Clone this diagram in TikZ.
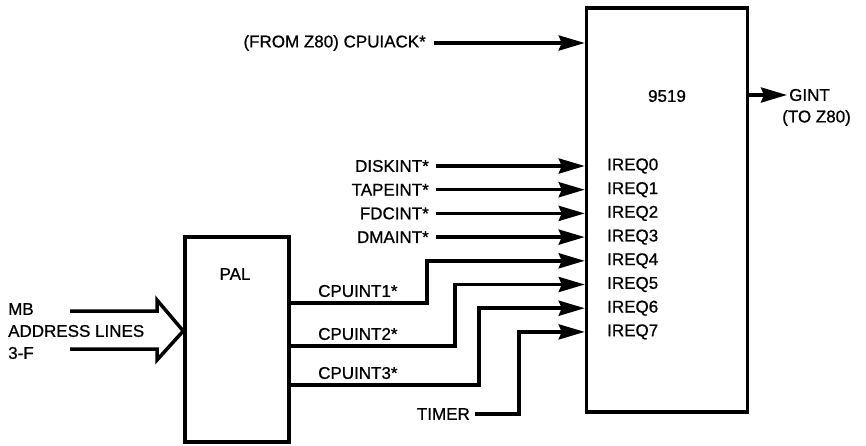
\documentclass[tikz,border=0pt]{standalone}
\usepackage{fontspec}
\setmainfont{Liberation Sans}[FakeBold=0.8]
\usetikzlibrary{arrows.meta}

\begin{document}
\begin{tikzpicture}[x=1pt, y=-1pt, >={Stealth[length=26pt,width=15pt,inset=3pt]},
        wire/.style={line width=3.5pt},
        box/.style={draw, line width=3.5pt, inner sep=0pt},
        lbl/.style={font=\fontsize{17}{17}\selectfont, inner sep=2pt}]
    \useasboundingbox (0,0) rectangle (866,445);
    % Chips
    \node[box, minimum width=161pt, minimum height=404pt] (chip) at (667,210) {};
    \node[box, minimum width=104pt, minimum height=205pt] (pal) at (237,339.5) {};
    \node[lbl] (chipname) at (667,96) {9519};
    \node[lbl] (palname) at (235,274) {PAL};
    % Request inputs
    \foreach \i in {0,...,7} {
            \node[lbl, anchor=west] (irq\i) at (605, {166+23.7*\i}) {IREQ\i};
        }
    \foreach \name/\i in {DISKINT/0, TAPEINT/1, FDCINT/2, DMAINT/3} {
            \node[lbl, anchor=east] (in\i) at (431, {166+23.7*\i}) {\name*};
            \draw[wire, ->, shorten <=5pt] (in\i.east) -- (chip.west |- irq\i);
        }
    % PAL outputs
    \foreach \n/\k/\x/\y in {1/4/427/303, 2/5/455/346, 3/6/479/385} {
            \coordinate (bend\n) at (\x,\y);
            \node[lbl, anchor=west] (cpu\n) at (316, {\y-12}) {CPUINT\n*};
            \draw[wire, ->] (pal.east |- bend\n) -- (bend\n) |- (chip.west |- irq\k);
        }
    \node[lbl, anchor=east] (timer) at (472,414) {TIMER};
    \coordinate (tbend) at (519,414);
    \draw[wire, ->, shorten <=3pt] (timer.east) -- (tbend) |- (chip.west |- irq7);
    % Acknowledge and interrupt out
    \node[lbl, anchor=east] (ack) at (428,43) {(FROM Z80) CPUIACK*};
    \draw[wire, ->, shorten <=6pt] (ack.east) -- (ack.east -| chip.west);
    \node[lbl, anchor=west] (gint) at (787,95) {GINT};
    \node[lbl, anchor=west] (toz) at (780,118) {(TO Z80)};
    \draw[wire, ->] (chip.east |- gint) -- (gint.west);
    % Address bus
    \node[lbl, anchor=west] (mb) at (6,309) {MB};
    \node[lbl, anchor=west] (addr) at (6,331) {ADDRESS LINES};
    \node[lbl, anchor=west] (three) at (6,353) {3-F};
    \coordinate (bustip) at (pal.west |- addr);
    \draw[wire] (70,311) -- (157,311) -- (157,300) -- (bustip) -- (157,360) -- (157,349) -- (70,349);
\end{tikzpicture}
\end{document}
